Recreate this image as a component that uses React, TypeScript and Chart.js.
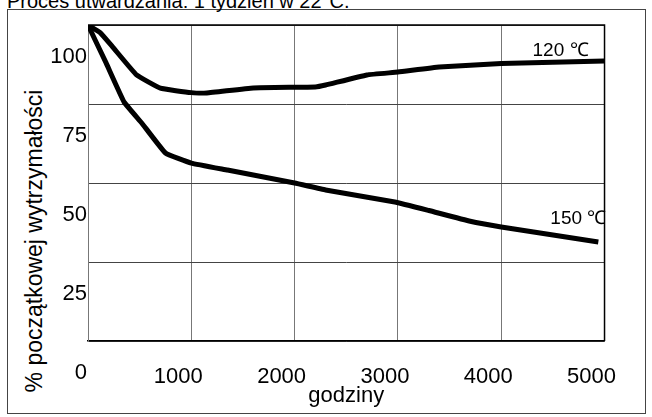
import React, { useEffect, useRef } from "react";
import { Chart, registerables } from "chart.js";

Chart.register(...registerables);

const titleText = "Proces utwardzania: 1 tydzień w 22°C.";
const xAxisTitle = "godziny";
const yAxisTitle = "% początkowej wytrzymałości";
const xTickValues = [0, 1000, 2000, 3000, 4000, 5000];
const yTickValues = [0, 25, 50, 75, 100];
const seriesNames = ["120 ℃", "150 ℃"];

const hours120 = [0, 120, 240, 470, 700, 1000, 1150, 1600, 2200, 2300, 2700, 3000, 3400, 4000, 5000];
const strength120 = [100, 97.5, 93, 84.2, 80, 78.6, 78.5, 80.1, 80.4, 81, 84.2, 85.1, 86.7, 87.8, 88.6];

const hours150 = [0, 175, 350, 520, 750, 1000, 1350, 2000, 2300, 2970, 3300, 3700, 4000, 4940];
const strength150 = [100, 88, 75.6, 69, 59.5, 56.3, 54.1, 50, 47.8, 44, 41.3, 37.9, 36.1, 31.3];

const FONT = "'Liberation Sans', Arial, Helvetica, sans-serif";

export default function App() {
  const ref = useRef<HTMLCanvasElement>(null);

  useEffect(() => {
    const canvas = ref.current;
    if (!canvas) return;

    const labelPlugin = {
      id: "seriesLabels",
      afterDatasetsDraw(chart: any) {
        const ctx = chart.ctx;
        const offsets = [
          [-16, -10],
          [8, -23],
        ];
        ctx.save();
        ctx.font = `19px ${FONT}`;
        ctx.fillStyle = "#000";
        ctx.textAlign = "right";
        ctx.textBaseline = "middle";
        chart.data.datasets.forEach((_ds: any, i: number) => {
          const meta = chart.getDatasetMeta(i);
          const pt = meta.data[meta.data.length - 1];
          ctx.fillText(seriesNames[i], pt.x + offsets[i][0], pt.y + offsets[i][1]);
        });
        const a = chart.chartArea;
        ctx.strokeStyle = "#000";
        ctx.lineWidth = 1.5;
        ctx.beginPath();
        ctx.moveTo(a.left, a.top);
        ctx.lineTo(a.right, a.top);
        ctx.lineTo(a.right, a.bottom);
        ctx.stroke();
        ctx.restore();
      },
    };

    const lineStyle = {
      borderColor: "#000",
      borderWidth: 5,
      pointRadius: 0,
      tension: 0.1,
      borderJoinStyle: "round",
      fill: false,
    };

    const chart = new Chart(canvas, {
      type: "line",
      data: {
        datasets: [
          {
            label: seriesNames[0],
            data: hours120.map((h, i) => ({ x: h, y: strength120[i] })),
            ...lineStyle,
          },
          {
            label: seriesNames[1],
            data: hours150.map((h, i) => ({ x: h, y: strength150[i] })),
            ...lineStyle,
          },
        ],
      },
      options: {
        responsive: false,
        animation: false,
        devicePixelRatio: 1,
        layout: { padding: { left: 8, top: 25, right: 40, bottom: 0 } },
        plugins: {
          legend: { display: false },
          tooltip: { enabled: false },
          title: { display: false },
        },
        scales: {
          x: {
            type: "linear",
            min: 0,
            max: 5000,
            afterFit: (s: any) => {
              s.height = 76;
            },
            afterBuildTicks: (s: any) => {
              s.ticks = xTickValues.map((v) => ({ value: v }));
            },
            ticks: {
              autoSkip: false,
              maxRotation: 0,
              padding: 23,
              labelOffset: -13,
              color: "#000",
              font: { family: FONT, size: 22 },
              callback: (v: any) => (v === 0 ? "" : String(v)),
            },
            grid: { color: "#777", lineWidth: 1, drawTicks: false },
            border: { color: "#000", width: 1.5 },
            title: {
              display: true,
              text: xAxisTitle,
              color: "#000",
              font: { family: FONT, size: 22 },
              padding: { top: 0, bottom: 8 },
            },
          },
          y: {
            type: "linear",
            min: 0,
            max: 100,
            afterFit: (s: any) => {
              s.width = 80;
            },
            afterBuildTicks: (s: any) => {
              s.ticks = yTickValues.map((v) => ({ value: v }));
            },
            ticks: {
              autoSkip: false,
              padding: 1,
              labelOffset: 32,
              color: "#000",
              font: { family: FONT, size: 22 },
              callback: (v: any) => String(v),
            },
            grid: { color: "#444", lineWidth: 1, drawTicks: false },
            border: { color: "#777", width: 1 },
          },
        },
      },
      plugins: [labelPlugin],
    } as any);

    return () => chart.destroy();
  }, []);

  return (
    <div
      style={{
        position: "fixed",
        left: 0,
        top: 0,
        width: 652,
        height: 417,
        background: "#fff",
        overflow: "hidden",
        fontFamily: FONT,
      }}
    >
      <div
        style={{
          position: "absolute",
          left: 7,
          top: 9,
          width: 637,
          height: 403,
          border: "1px solid #444",
        }}
      />
      <div
        style={{
          position: "absolute",
          left: 7,
          top: -9,
          fontSize: 20,
          lineHeight: "20px",
          whiteSpace: "nowrap",
          color: "#000",
        }}
      >
        {titleText}
      </div>
      <div
        style={{
          position: "absolute",
          left: 34,
          top: 241,
          transform: "translate(-50%, -50%) rotate(-90deg)",
          fontSize: 23,
          lineHeight: "26px",
          whiteSpace: "nowrap",
          color: "#000",
        }}
      >
        {yAxisTitle}
      </div>
      <canvas
        ref={ref}
        width={652}
        height={417}
        style={{ position: "absolute", left: 0, top: 0, width: 652, height: 417 }}
      />
    </div>
  );
}
